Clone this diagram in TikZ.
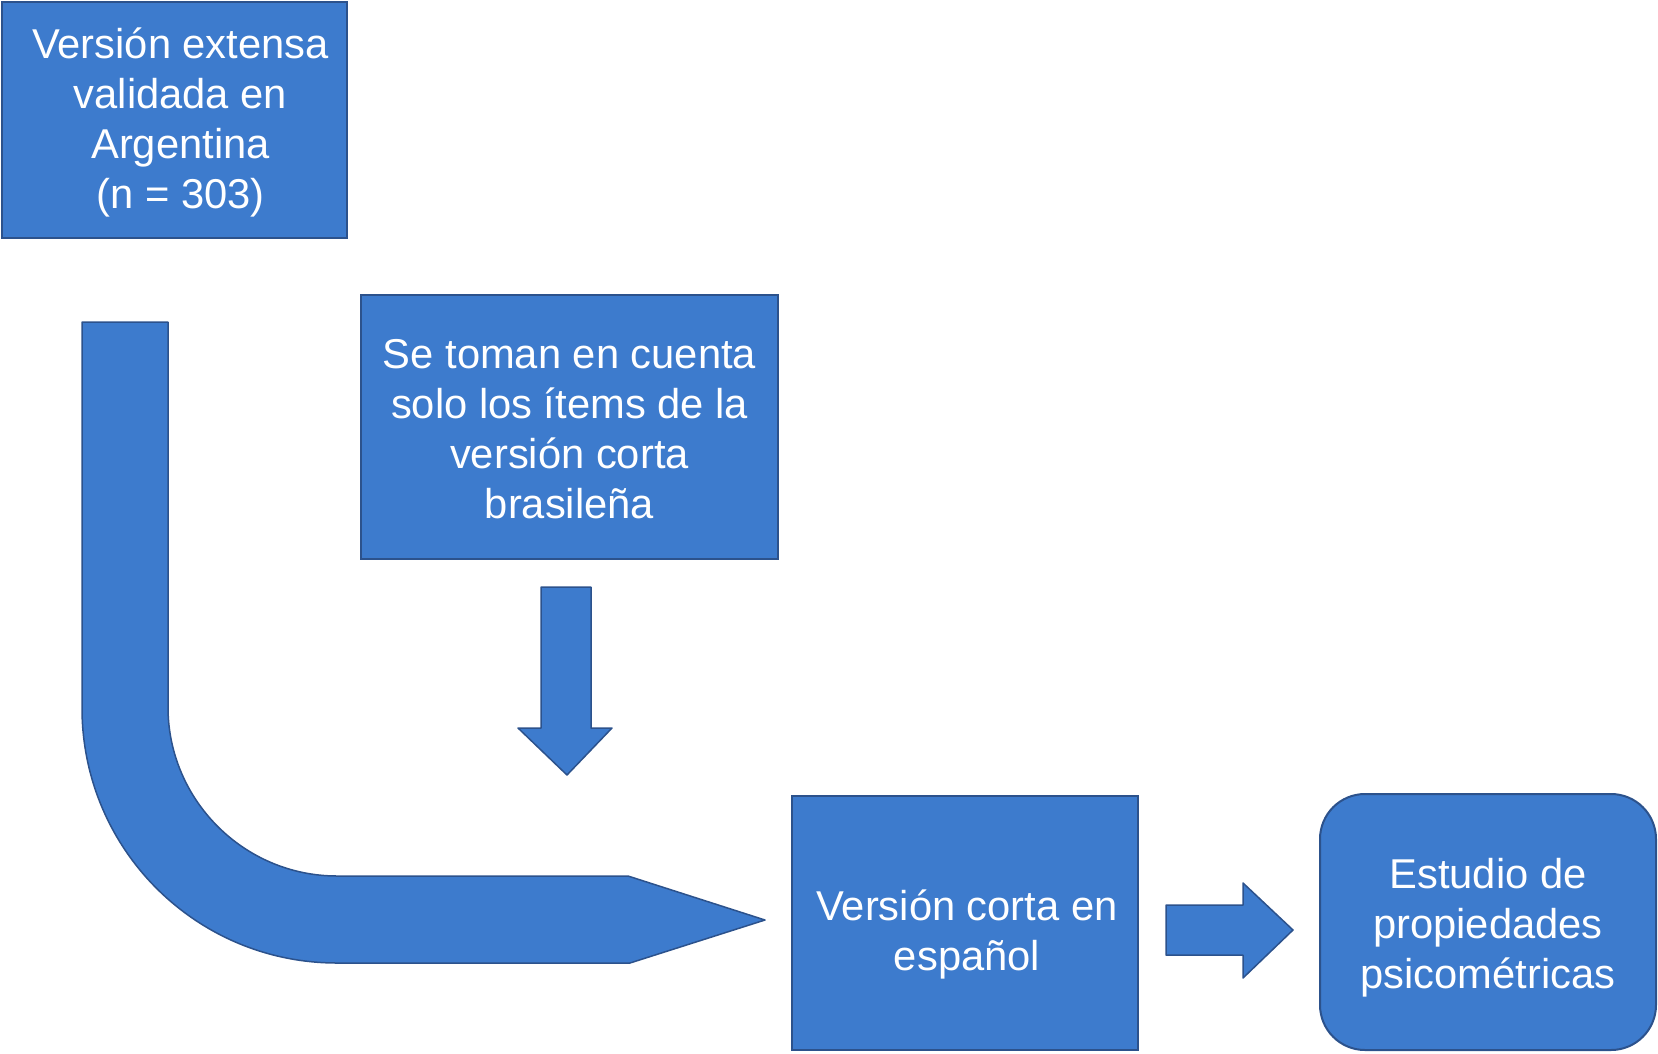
\documentclass[tikz,border=0pt]{standalone}
\usepackage{fontspec}
\setmainfont{Liberation Sans}
\definecolor{boxblue}{RGB}{61,123,205}
\definecolor{edgeblue}{RGB}{44,82,140}
\begin{document}
\begin{tikzpicture}[x=1pt,y=-1pt,
  box/.style={draw=edgeblue, line width=2pt, fill=boxblue, inner sep=0pt},
  boxtext/.style={text=white, align=center, inner sep=0pt,
    font=\fontsize{41.7}{50}\selectfont},
  blockarrow/.style={draw=edgeblue, line width=1.5pt, fill=boxblue, line join=round}]
\useasboundingbox (0,0) rectangle (1658,1053);

% boxes
\node[box, minimum width=345pt, minimum height=236pt] (ext) at (174.5,119.5) {};
\node[boxtext, xshift=6pt, yshift=-3pt] (extT) at (ext.center)
  {Versión extensa\\validada en\\Argentina\\(n = 303)};

\node[box, minimum width=417pt, minimum height=264pt] (sel) at (569.5,427) {};
\node[boxtext, yshift=-2pt] (selT) at (sel.center)
  {Se toman en cuenta\\solo los ítems de la\\versión corta\\brasileña};

\node[box, minimum width=346pt, minimum height=254pt] (corta) at (965,923) {};
\node[boxtext, xshift=2pt, yshift=-11pt] (cortaT) at (corta.center)
  {Versión corta en\\español};

\node[box, rounded corners=45pt, minimum width=336pt, minimum height=256pt] (est) at (1488,922) {};
\node[boxtext, yshift=-6pt] (estT) at (est.center)
  {Estudio de\\propiedades\\psicométricas};

% bent arrow from the extended version down and into the short version
\draw[blockarrow] (82,322) -- (82,708)
  .. controls (82,849) and (196,963) .. (337,963)
  -- (630,963) -- (765,920) -- (628,876) -- (337,876)
  .. controls (244,876) and (168,800) .. (168,707)
  -- (168,322) -- cycle;

% down arrow
\draw[blockarrow] (541,587) -- (591,587) -- (591,728) -- (612,728) -- (567,775)
  -- (518,728) -- (541,728) -- cycle;

% right arrow
\draw[blockarrow] (1166,905) -- (1243,905) -- (1243,883) -- (1293,930)
  -- (1243,978) -- (1243,955) -- (1166,955) -- cycle;
\end{tikzpicture}
\end{document}
